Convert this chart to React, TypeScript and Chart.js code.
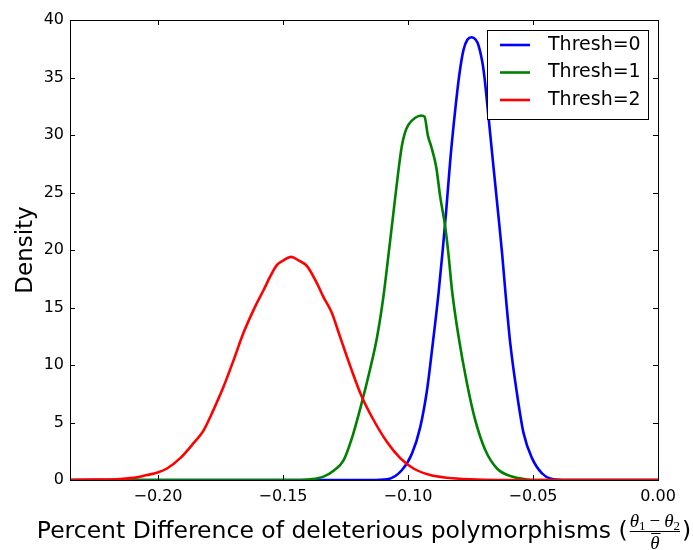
import { useEffect, useRef } from "react";
import { Chart, registerables } from "chart.js";

Chart.register(...registerables);

// Kernel density estimates of the percent difference, one per threshold
const thresh0X = [
  -0.2352, -0.13, -0.115, -0.1084, -0.1024, -0.0984, -0.0951, -0.0924, -0.0904, -0.0878,
  -0.0862, -0.0848, -0.0831, -0.0811, -0.0795, -0.0778, -0.0762, -0.0745, -0.073, -0.0718,
  -0.0698, -0.0678, -0.0658, -0.0638, -0.0624, -0.0611, -0.0591, -0.0564, -0.0538, -0.0504,
  -0.0464, -0.0418, -0.037, 0,
];
const thresh0Y = [
  0, 0, 0, 0.06, 0.87, 2.3, 4.6, 7.8, 11.3, 16.2,
  19.8, 23.2, 27.8, 32.2, 35.2, 37.4, 38.3, 38.5, 38.3, 37.8,
  35.7, 31.6, 27.2, 22.9, 19.8, 16.5, 11.9, 7.5, 4.1, 1.9,
  0.58, 0.06, 0, 0,
];

const thresh1X = [
  -0.2352, -0.145, -0.139, -0.1338, -0.1295, -0.1258, -0.1225, -0.119, -0.1151, -0.1124,
  -0.1098, -0.1078, -0.1058, -0.104, -0.1025, -0.1012, -0.0998, -0.0971, -0.0947, -0.0934,
  -0.092, -0.0907, -0.0887, -0.0871, -0.0851, -0.0838, -0.0824, -0.0798, -0.0764, -0.0731,
  -0.0691, -0.0644, -0.0584, -0.0524, -0.048, 0,
];
const thresh1Y = [
  0, 0, 0.06, 0.29, 0.85, 1.7, 3.6, 6.3, 9.7, 12.4,
  16.0, 19.6, 23.3, 26.6, 29.0, 30.2, 30.9, 31.5, 31.7, 31.6,
  29.9, 29.0, 27.2, 24.6, 22.0, 19.6, 16.5, 12.5, 8.4, 5.2,
  2.6, 1.0, 0.3, 0.05, 0, 0,
];

const thresh2X = [
  -0.2352, -0.2244, -0.2151, -0.2084, -0.2044, -0.2004, -0.1964, -0.1911, -0.1858, -0.1818,
  -0.1778, -0.1738, -0.1698, -0.1658, -0.1611, -0.1578, -0.1551, -0.1524, -0.1498, -0.1467,
  -0.1438, -0.1404, -0.1364, -0.1338, -0.1306, -0.1271, -0.1231, -0.1186, -0.1145, -0.1084,
  -0.1031, -0.0978, -0.0911, -0.0844, -0.0751, -0.0644, 0,
];
const thresh2Y = [
  0, 0.03, 0.09, 0.23, 0.43, 0.64, 1.0, 1.9, 3.2, 4.3,
  6.1, 8.1, 10.4, 12.8, 15.1, 16.5, 17.7, 18.7, 19.1, 19.4,
  19.1, 18.6, 17.1, 15.9, 14.6, 12.4, 9.9, 7.3, 5.5, 3.3,
  1.9, 1.0, 0.43, 0.2, 0.06, 0, 0,
];

const seriesLabels = ["Thresh=0", "Thresh=1", "Thresh=2"];
const seriesColors = ["#0000ff", "#008000", "#ff0000"];

const xTickValues = [-0.2, -0.15, -0.1, -0.05, 0];
const yTickValues = [0, 5, 10, 15, 20, 25, 30, 35, 40];
const xMin = -0.2352;
const xMax = 0;
const yMin = 0;
const yMax = 40;

const yTitle = "Density";
const xTitle = "Percent Difference of deleterious polymorphisms (";

const SANS = '"DejaVu Sans", sans-serif';
const SERIF = '"Liberation Serif", "DejaVu Serif", serif';

const toPoints = (xs: number[], ys: number[]) => xs.map((x, i) => ({ x, y: ys[i] }));

const formatX = (v: number) => {
  const s = Math.abs(v) < 1e-9 ? "0.00" : v.toFixed(2);
  return s.replace("-", "\u2212");
};

// Frame, inward ticks on all four sides, axis titles and the boxed legend
const decorPlugin = {
  id: "decor",
  afterDatasetsDraw(chart: any) {
    const { ctx, chartArea: a, scales } = chart;
    const x = scales.x;
    const y = scales.y;
    const tick = 5;
    ctx.save();
    ctx.strokeStyle = "#000";
    ctx.lineWidth = 1;
    ctx.beginPath();
    xTickValues.forEach((v) => {
      const px = Math.round(x.getPixelForValue(v)) + 0.5;
      ctx.moveTo(px, a.bottom);
      ctx.lineTo(px, a.bottom - tick);
      ctx.moveTo(px, a.top);
      ctx.lineTo(px, a.top + tick);
    });
    yTickValues.forEach((v) => {
      const py = Math.round(y.getPixelForValue(v)) + 0.5;
      ctx.moveTo(a.left, py);
      ctx.lineTo(a.left + tick, py);
      ctx.moveTo(a.right, py);
      ctx.lineTo(a.right - tick, py);
    });
    ctx.stroke();
    ctx.strokeRect(a.left + 0.5, a.top + 0.5, a.right - a.left, a.bottom - a.top);

    // Legend
    const lx = 487.5;
    const ly = 30.5;
    const lw = 161;
    const lh = 89;
    ctx.fillStyle = "#fff";
    ctx.fillRect(lx, ly, lw, lh);
    ctx.strokeStyle = "#000";
    ctx.lineWidth = 1;
    ctx.strokeRect(lx, ly, lw, lh);
    ctx.font = `19px ${SANS}`;
    ctx.textAlign = "left";
    ctx.textBaseline = "middle";
    const rowY = [45, 72.5, 100];
    seriesLabels.forEach((label, i) => {
      ctx.strokeStyle = seriesColors[i];
      ctx.lineWidth = 2.6;
      ctx.beginPath();
      ctx.moveTo(500, rowY[i]);
      ctx.lineTo(530, rowY[i]);
      ctx.stroke();
      ctx.fillStyle = "#000";
      ctx.fillText(label, 548, rowY[i]);
    });

    // Y axis title
    ctx.save();
    ctx.translate(31.5, (a.top + a.bottom) / 2);
    ctx.rotate(-Math.PI / 2);
    ctx.font = `23px ${SANS}`;
    ctx.textAlign = "center";
    ctx.textBaseline = "alphabetic";
    ctx.fillStyle = "#000";
    ctx.fillText(yTitle, 0, 0);
    ctx.restore();

    // X axis title with the fraction (theta1 - theta2) / theta-bar
    const base = 538;
    const mainFont = `23.5px ${SANS}`;
    ctx.fillStyle = "#000";
    ctx.textBaseline = "alphabetic";
    ctx.textAlign = "left";
    ctx.font = mainFont;
    const wMain = ctx.measureText(xTitle).width;
    const wClose = ctx.measureText(")").width;
    const thetaFont = `italic 19px ${SERIF}`;
    const subFont = `13px ${SERIF}`;
    const opFont = `19px ${SERIF}`;
    ctx.font = thetaFont;
    const wTheta = ctx.measureText("\u03b8").width;
    ctx.font = subFont;
    const wSub = ctx.measureText("1").width;
    ctx.font = opFont;
    const wMinus = ctx.measureText("\u2212").width;
    const gap = 4;
    const wNum = wTheta + wSub + gap + wMinus + gap + wTheta + wSub;
    const fracPad = 2;
    const wFrac = wNum + fracPad * 2;
    const total = wMain + wFrac + wClose;
    let cx = (a.left + a.right) / 2 - total / 2;
    ctx.font = mainFont;
    ctx.fillText(xTitle, cx, base);
    cx += wMain;
    // numerator
    let nx = cx + fracPad;
    const numBase = base - 11;
    ctx.font = thetaFont;
    ctx.fillText("\u03b8", nx, numBase);
    nx += wTheta;
    ctx.font = subFont;
    ctx.fillText("1", nx, numBase + 3);
    nx += wSub + gap;
    ctx.font = opFont;
    ctx.fillText("\u2212", nx, numBase);
    nx += wMinus + gap;
    ctx.font = thetaFont;
    ctx.fillText("\u03b8", nx, numBase);
    nx += wTheta;
    ctx.font = subFont;
    ctx.fillText("2", nx, numBase + 3);
    // fraction bar
    ctx.strokeStyle = "#000";
    ctx.lineWidth = 1;
    ctx.beginPath();
    ctx.moveTo(cx + fracPad, base - 6.5);
    ctx.lineTo(cx + fracPad + wNum, base - 6.5);
    ctx.stroke();
    // denominator: theta with a bar over it
    const dCenter = cx + fracPad + wNum / 2;
    const denBase = base + 11;
    ctx.font = thetaFont;
    ctx.textAlign = "center";
    ctx.fillText("\u03b8", dCenter, denBase);
    ctx.beginPath();
    ctx.moveTo(dCenter - wTheta / 2 + 1, denBase - 15.5);
    ctx.lineTo(dCenter + wTheta / 2 + 1, denBase - 15.5);
    ctx.stroke();
    ctx.textAlign = "left";
    cx += wFrac;
    ctx.font = mainFont;
    ctx.fillText(")", cx, base);
    ctx.restore();
  },
};

export default function App() {
  const canvasRef = useRef<HTMLCanvasElement | null>(null);

  useEffect(() => {
    const canvas = canvasRef.current;
    if (!canvas) return;
    const seriesX = [thresh0X, thresh1X, thresh2X];
    const seriesY = [thresh0Y, thresh1Y, thresh2Y];
    const chart = new Chart(canvas, {
      type: "line",
      data: {
        datasets: seriesLabels.map((label, i) => ({
          label,
          data: toPoints(seriesX[i], seriesY[i]),
          borderColor: seriesColors[i],
          backgroundColor: seriesColors[i],
          borderWidth: 2.6,
          pointRadius: 0,
          fill: false,
          cubicInterpolationMode: "monotone" as const,
          order: seriesLabels.length - i,
        })),
      },
      options: {
        animation: false,
        responsive: false,
        maintainAspectRatio: false,
        devicePixelRatio: 1,
        layout: { padding: { top: 20, right: 35, left: 0, bottom: 0 } },
        plugins: {
          legend: { display: false },
          tooltip: { enabled: false },
          title: { display: false },
        },
        scales: {
          x: {
            type: "linear",
            min: xMin,
            max: xMax,
            grid: { display: false, drawTicks: false },
            border: { display: false },
            afterBuildTicks: (scale: any) => {
              scale.ticks = xTickValues.map((value) => ({ value }));
            },
            afterFit: (scale: any) => {
              scale.height = 70;
            },
            ticks: {
              padding: 7,
              color: "#000",
              font: { family: SANS, size: 16 },
              maxRotation: 0,
              autoSkip: false,
              callback: (v: any) => formatX(Number(v)),
            },
          },
          y: {
            type: "linear",
            min: yMin,
            max: yMax,
            grid: { display: false, drawTicks: false },
            border: { display: false },
            afterBuildTicks: (scale: any) => {
              scale.ticks = yTickValues.map((value) => ({ value }));
            },
            afterFit: (scale: any) => {
              scale.width = 70;
            },
            ticks: {
              padding: 6,
              color: "#000",
              font: { family: SANS, size: 16 },
              callback: (v: any) => String(v),
            },
          },
        },
      },
      plugins: [decorPlugin],
    });
    return () => chart.destroy();
  }, []);

  return (
    <div style={{ position: "fixed", left: 0, top: 0, width: 693, height: 550, background: "#fff" }}>
      <canvas ref={canvasRef} width={693} height={550} style={{ width: 693, height: 550, display: "block" }} />
    </div>
  );
}
